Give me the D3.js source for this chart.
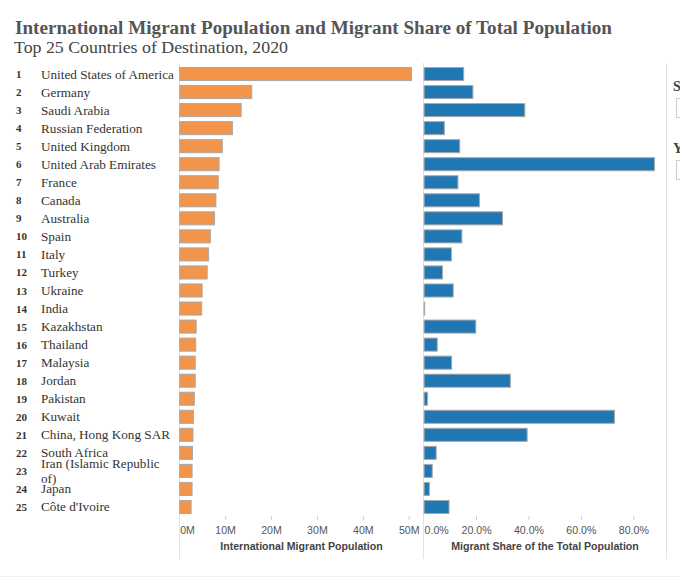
<!DOCTYPE html>
<html>
<head>
<meta charset="utf-8">
<script src="https://cdn.jsdelivr.net/npm/d3@7"></script>
<style>
  html, body { margin: 0; padding: 0; background: #fff; }
  svg { display: block; }
</style>
</head>
<body>
<svg id="chart" width="680" height="578"></svg>
<script>
const ranks = [1,2,3,4,5,6,7,8,9,10,11,12,13,14,15,16,17,18,19,20,21,22,23,24,25];
const countries = ["United States of America","Germany","Saudi Arabia","Russian Federation","United Kingdom","United Arab Emirates","France","Canada","Australia","Spain","Italy","Turkey","Ukraine","India","Kazakhstan","Thailand","Malaysia","Jordan","Pakistan","Kuwait","China, Hong Kong SAR","South Africa","Iran (Islamic Republic of)","Japan","Côte d'Ivoire"];
const migrants = [50.6,15.8,13.5,11.6,9.4,8.7,8.5,8.0,7.7,6.8,6.4,6.1,5.0,4.9,3.7,3.6,3.5,3.5,3.3,3.1,3.0,2.9,2.8,2.8,2.6]; // millions
const share = [15.3,18.8,38.6,7.9,13.8,88.1,13.1,21.3,30.1,14.6,10.6,7.2,11.3,0.4,19.9,5.2,10.7,33.1,1.5,72.8,39.5,4.8,3.3,2.2,9.7]; // percent
const popTicks = [0,10,20,30,40,50];
const shareTicks = [0,20,40,60,80];
const title = "International Migrant Population and Migrant Share of Total Population";
const subtitle = "Top 25 Countries of Destination, 2020";
const axisTitles = ["International Migrant Population","Migrant Share of the Total Population"];

(function () {
const svg = d3.select("#chart");
const serif = "'Liberation Serif','Times New Roman',serif";
const sans = "'Liberation Sans',Arial,sans-serif";

// Titles
svg.append("text").attr("x", 15).attr("y", 33.5)
  .attr("font-family", serif).attr("font-weight", "bold").attr("font-size", 18.2)
  .attr("textLength", 597).attr("lengthAdjust", "spacingAndGlyphs")
  .attr("fill", "#555").text(title);
svg.append("text").attr("x", 14).attr("y", 53)
  .attr("font-family", serif).attr("font-size", 17).attr("fill", "#444")
  .attr("textLength", 274).attr("lengthAdjust", "spacingAndGlyphs").text(subtitle);

const yTop = 65, yBottom = 516;
const y = d3.scaleBand().domain(countries).range([yTop, yBottom]).paddingInner(0.22).paddingOuter(0.11);
const xPop = d3.scaleLinear().domain([0, 50]).range([179.2, 408.7]);
const xShare = d3.scaleLinear().domain([0, 80]).range([423.6, 633.3]);

// Frame lines
[179.5, 423.5, 666.5].forEach(xv => {
  svg.append("line").attr("x1", xv).attr("x2", xv).attr("y1", 63).attr("y2", 559)
    .attr("stroke", "#e2e2e2").attr("stroke-width", 1);
});
svg.append("line").attr("x1", 0).attr("x2", 680).attr("y1", 576.5).attr("y2", 576.5)
  .attr("stroke", "#efefef").attr("stroke-width", 1);

// Row labels
const rows = svg.append("g");
countries.forEach((c, i) => {
  const cy = y(c) + y.bandwidth() / 2;
  rows.append("text").attr("x", 16).attr("y", cy + 4)
    .attr("font-family", serif).attr("font-weight", "bold").attr("font-size", 11)
    .attr("fill", "#333").text(ranks[i]);
  if (c === "Iran (Islamic Republic of)") {
    rows.append("text").attr("x", 41).attr("y", cy - 7.8 + 4.5)
      .attr("font-family", serif).attr("font-size", 13.2).attr("fill", "#333").text("Iran (Islamic Republic");
    rows.append("text").attr("x", 41).attr("y", cy + 7.8 + 4.5)
      .attr("font-family", serif).attr("font-size", 13.2).attr("fill", "#333").text("of)");
  } else {
    rows.append("text").attr("x", 41).attr("y", cy + 4.5)
      .attr("font-family", serif).attr("font-size", 13.2).attr("fill", "#333").text(c);
  }
});

// Bars
svg.append("g").selectAll("rect").data(countries).join("rect")
  .attr("x", xPop(0) + 0.5).attr("y", d => y(d) + 0.5)
  .attr("width", (d, i) => Math.max(0, xPop(migrants[i]) - xPop(0) - 0.5))
  .attr("height", y.bandwidth() - 1)
  .attr("fill", "#f2944a").attr("stroke", "#a9a9a9").attr("stroke-width", 1);

svg.append("g").selectAll("rect").data(countries).join("rect")
  .attr("x", xShare(0) + 0.5).attr("y", d => y(d) + 0.5)
  .attr("width", (d, i) => Math.max(0.5, xShare(share[i]) - xShare(0) - 0.5))
  .attr("height", y.bandwidth() - 1)
  .attr("fill", "#1f77b4").attr("stroke", "#a9a9a9").attr("stroke-width", 1);

// Axes
function styleAxis(g) {
  g.select(".domain").remove();
  g.selectAll(".tick line").attr("stroke", "#d0d0d0");
  g.selectAll(".tick text").attr("font-family", sans).attr("font-size", 10.6).attr("fill", "#555");
  const first = g.selectAll(".tick").filter((d, i) => i === 0);
  first.select("line").remove();
  first.select("text").attr("text-anchor", "start").attr("x", 0.5);
}
const axPop = svg.append("g").attr("transform", `translate(0,${yBottom})`)
  .call(d3.axisBottom(xPop).tickValues(popTicks).tickSize(4).tickPadding(6).tickFormat(d => d + "M"));
styleAxis(axPop);
const axShare = svg.append("g").attr("transform", `translate(0,${yBottom})`)
  .call(d3.axisBottom(xShare).tickValues(shareTicks).tickSize(4).tickPadding(6).tickFormat(d => d.toFixed(1) + "%"));
styleAxis(axShare);

svg.append("text").attr("x", (179.5 + 423.5) / 2).attr("y", 550).attr("text-anchor", "middle")
  .attr("font-family", sans).attr("font-weight", "bold").attr("font-size", 10.6).attr("fill", "#444")
  .text(axisTitles[0]);
svg.append("text").attr("x", (423.5 + 666.5) / 2).attr("y", 550).attr("text-anchor", "middle")
  .attr("font-family", sans).attr("font-weight", "bold").attr("font-size", 10.6).attr("fill", "#444")
  .text(axisTitles[1]);

// Cut-off filter controls at right edge
svg.append("text").attr("x", 673).attr("y", 91).attr("font-family", serif).attr("font-weight", "bold")
  .attr("font-size", 14).attr("fill", "#444").text("S");
svg.append("rect").attr("x", 676.5).attr("y", 98.5).attr("width", 20).attr("height", 19)
  .attr("fill", "#fff").attr("stroke", "#ccc");
svg.append("text").attr("x", 673).attr("y", 153).attr("font-family", serif).attr("font-weight", "bold")
  .attr("font-size", 14).attr("fill", "#444").text("Y");
svg.append("rect").attr("x", 676.5).attr("y", 160.5).attr("width", 20).attr("height", 19)
  .attr("fill", "#fff").attr("stroke", "#ccc");
})();
</script>
</body>
</html>
